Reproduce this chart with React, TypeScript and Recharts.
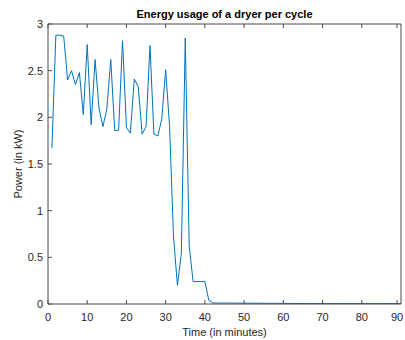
import { Line, LineChart, XAxis, YAxis } from "recharts";

const minutes = [
  1, 2, 3, 4, 5, 6, 7, 8, 9, 10, 11, 12, 13, 14, 15, 16, 17, 18, 19, 20,
  21, 22, 23, 24, 25, 26, 27, 28, 29, 30, 31, 32, 33, 34, 35, 36, 37, 38, 39, 40,
  41, 42, 43, 44, 45, 46, 47, 48, 49, 50, 51, 52, 53, 54, 55, 56, 57, 58, 59, 60,
  61, 62, 63, 64, 65, 66, 67, 68, 69, 70, 71, 72, 73, 74, 75, 76, 77, 78, 79, 80,
  81, 82, 83, 84, 85, 86, 87, 88, 89, 90,
];

const powerKw = [
  1.67, 2.88, 2.88, 2.87, 2.4, 2.5, 2.35, 2.48, 2.03, 2.78,
  1.92, 2.62, 2.1, 1.9, 2.09, 2.62, 1.86, 1.86, 2.82, 1.89,
  1.83, 2.41, 2.33, 1.82, 1.9, 2.77, 1.82, 1.8, 1.98, 2.51,
  1.9, 0.72, 0.2, 0.54, 2.85, 0.62, 0.24, 0.24, 0.24, 0.24,
  0.04, 0.012, 0.01, 0.01, 0.01, 0.01, 0.01, 0.01, 0.009, 0.009,
  0.009, 0.008, 0.008, 0.008, 0.008, 0.007, 0.007, 0.007, 0.007, 0.007,
  0.006, 0.006, 0.006, 0.006, 0.005, 0.005, 0.005, 0.005, 0.005, 0.005,
  0.005, 0.005, 0.005, 0.005, 0.005, 0.005, 0.005, 0.005, 0.005, 0.005,
  0.005, 0.005, 0.005, 0.005, 0.005, 0.005, 0.005, 0.005, 0.005, 0.005,
];

const xTicks = [0, 10, 20, 30, 40, 50, 60, 70, 80, 90];
const yTicks = [0, 0.5, 1, 1.5, 2, 2.5, 3];

const data = minutes.map((t, i) => ({ t, p: powerKw[i] }));

const axisColor = "#4a4a4a";
const textColor = "#262626";
const font = "'Liberation Sans', Arial, Helvetica, sans-serif";
const TICK_LEN = 4;
const X_MARGIN = 9;
const Y_MARGIN = 5;

// matlab-style ticks point into the plot, so the tick mark is drawn by hand
const BottomTick = (props: any) => {
  const { x, y, payload } = props;
  const y0 = y - X_MARGIN;
  return (
    <g>
      <line x1={x} y1={y0} x2={x} y2={y0 - TICK_LEN} stroke={axisColor} />
      <text x={x} y={y} dy="0.71em" textAnchor="middle" fill={textColor} fontSize={11} fontFamily={font}>
        {payload.value}
      </text>
    </g>
  );
};

const LeftTick = (props: any) => {
  const { x, y, payload } = props;
  const x0 = x + Y_MARGIN;
  return (
    <g>
      <line x1={x0} y1={y} x2={x0 + TICK_LEN} y2={y} stroke={axisColor} />
      <text x={x} y={y} dy="0.355em" textAnchor="end" fill={textColor} fontSize={11} fontFamily={font}>
        {payload.value}
      </text>
    </g>
  );
};

const TopTick = (props: any) => {
  const { x, y } = props;
  return <line x1={x} y1={y} x2={x} y2={y + TICK_LEN} stroke={axisColor} />;
};

const RightTick = (props: any) => {
  const { x, y } = props;
  return <line x1={x} y1={y} x2={x - TICK_LEN} y2={y} stroke={axisColor} />;
};

export default function App() {
  return (
    <div style={{ position: "absolute", left: 0, top: 0, background: "#fff" }}>
      <LineChart
        width={405}
        height={340}
        data={data}
        margin={{ top: 23, right: 3, left: 0, bottom: 0 }}
      >
        {/* box: top and right edges */}
        <XAxis
          xAxisId="top"
          orientation="top"
          dataKey="t"
          type="number"
          domain={[0, 90]}
          ticks={xTicks}
          height={1}
          tickLine={false}
          tickSize={0}
          tickMargin={0}
          tick={<TopTick />}
          stroke={axisColor}
          label={{
            value: "Energy usage of a dryer per cycle",
            position: "top",
            offset: 5,
            style: { fill: "#000", fontSize: 11, fontWeight: "bold", fontFamily: font },
          }}
        />
        <YAxis
          yAxisId="right"
          orientation="right"
          type="number"
          domain={[0, 3]}
          ticks={yTicks}
          width={1}
          tickLine={false}
          tickSize={0}
          tickMargin={0}
          tick={<RightTick />}
          stroke={axisColor}
        />

        <XAxis
          dataKey="t"
          type="number"
          domain={[0, 90]}
          ticks={xTicks}
          height={36}
          tickLine={false}
          tickSize={0}
          tickMargin={X_MARGIN}
          tick={<BottomTick />}
          stroke={axisColor}
          label={{
            value: "Time (in minutes)",
            position: "insideBottom",
            offset: 4,
            style: { fill: textColor, fontSize: 11, fontFamily: font },
          }}
        />
        <YAxis
          type="number"
          domain={[0, 3]}
          ticks={yTicks}
          width={48}
          tickLine={false}
          tickSize={0}
          tickMargin={Y_MARGIN}
          tick={<LeftTick />}
          stroke={axisColor}
          label={{
            value: "Power (in kW)",
            angle: -90,
            position: "center",
            dx: -6,
            style: { fill: textColor, fontSize: 11, fontFamily: font, textAnchor: "middle" },
          }}
        />

        <Line
          type="linear"
          dataKey="p"
          stroke="#0072BD"
          strokeWidth={1}
          dot={false}
          isAnimationActive={false}
        />
      </LineChart>
    </div>
  );
}
